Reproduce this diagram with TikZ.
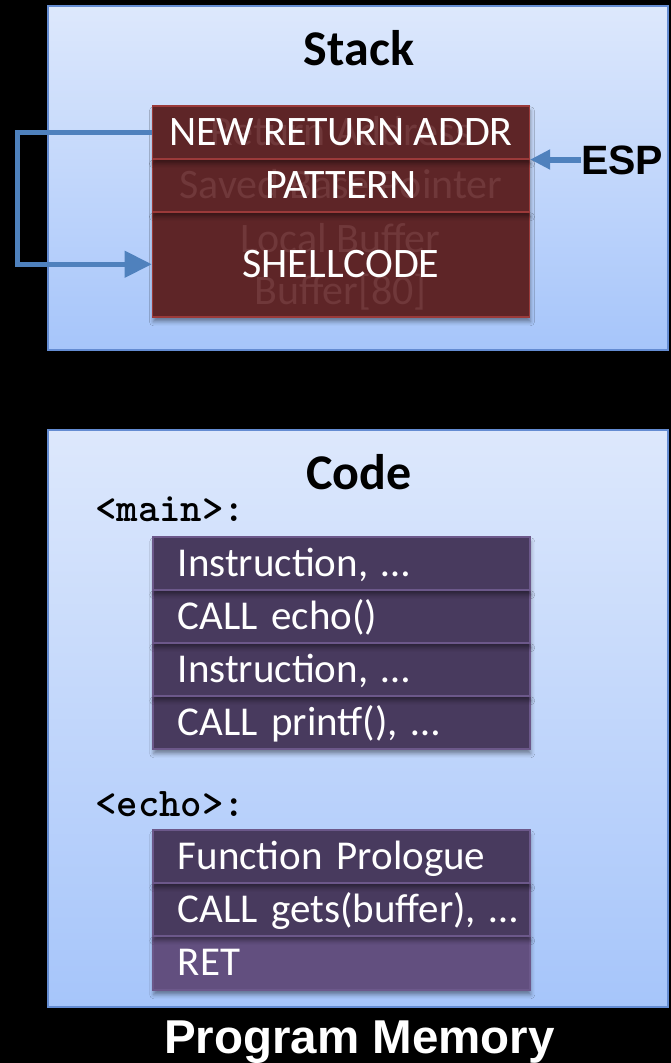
\documentclass[tikz,border=0pt]{standalone}
\usepackage{fontspec}
\setmainfont{Carlito}
\newfontfamily\arialfont{Liberation Sans}
\usetikzlibrary{arrows.meta,shadows.blur}
\definecolor{panelTop}{RGB}{221,232,252}
\definecolor{panelBot}{RGB}{166,197,250}
\definecolor{panelEdge}{RGB}{100,140,210}
\definecolor{redFill}{RGB}{94,37,39}
\definecolor{redEdge}{RGB}{155,58,58}
\definecolor{ghostRed}{RGB}{112,56,58}
\definecolor{purFill}{RGB}{72,58,94}
\definecolor{purEdge}{RGB}{108,88,138}
\definecolor{purLight}{RGB}{98,79,127}
\definecolor{connBlue}{RGB}{79,129,189}
\tikzset{
  panel/.style={draw=panelEdge, line width=1.5pt, top color=panelTop, bottom color=panelBot},
  rowshadow/.style={blur shadow={shadow xshift=1pt, shadow yshift=-5pt, shadow blur radius=4pt, shadow opacity=40}},
  redrow/.style={draw=redEdge, fill=redFill, line width=1.5pt, minimum width=377pt,
    inner sep=0pt, anchor=north west, rowshadow},
  ghosttxt/.style={text=ghostRed, inner sep=0pt, font=\fontsize{42}{42}\selectfont, text height=27pt, text depth=0pt},
  rowtxt/.style={text=white, inner sep=0pt, font=\fontsize{42}{42}\selectfont, text height=27pt, text depth=0pt},
  purrow/.style={draw=purEdge, fill=purFill, line width=1.5pt, minimum height=53pt,
    text width=377pt, inner xsep=0pt, inner ysep=0pt, align=left, anchor=north west,
    execute at begin node={\hspace*{25pt}},
    text=white, font=\fontsize{41}{41}\selectfont, text height=26pt, text depth=0pt, rowshadow},
  titletxt/.style={inner sep=0pt, font=\bfseries\fontsize{50}{50}\selectfont, text height=32pt, text depth=0pt},
  codelbl/.style={inner sep=0pt, anchor=base west, font=\ttfamily\bfseries\fontsize{40.8}{40.8}\selectfont},
  conn/.style={draw=connBlue, line width=4.5pt, -{Triangle[length=27pt,width=26pt]}},
  espconn/.style={draw=connBlue, line width=6pt, -{Triangle[length=20pt,width=19pt]}},
}
\begin{document}
\begin{tikzpicture}[x=1pt,y=-1pt]
\useasboundingbox (0,0) rectangle (671,1063);
\fill[black] (0,0) rectangle (671,1063);
% panels
\path[panel] (48,6) rectangle (668,350);
\path[panel] (48,430) rectangle (668,1007);
% stack
\node[titletxt] (stacktitle) at (359,49) {Stack};
\node[redrow, minimum height=105pt] (r3) at (151.7,211) {};
\node[redrow, minimum height=53pt] (r2) at (151.7,158) {};
\node[redrow, minimum height=53pt] (r1) at (151.7,105) {};
\node[ghosttxt] (g1) at (r1.center) {Return Address};
\node[ghosttxt] (g2) at (r2.center) {Saved Base Pointer};
\node[ghosttxt] (g3a) at (340.4,238.5) {Local Buffer};
\node[ghosttxt] (g3b) at (340.4,291) {Buffer[80]};
\node[rowtxt] (t1) at (r1.center) {NEW RETURN ADDR};
\node[rowtxt] (t2) at (r2.center) {PATTERN};
\node[rowtxt] (t3) at (r3.center) {SHELLCODE};
\node[inner sep=0pt, anchor=west, font=\arialfont\bfseries\fontsize{41}{41}\selectfont, text height=29pt, text depth=0pt] (esp) at (581,160) {ESP};
\draw[espconn] (esp.west |- r1.south east) -- (r1.south east);
\draw[conn] (r1.west) -- ++(-134,0) |- (r3.west);
% code
\node[titletxt] (codetitle) at (359,473) {Code};
\node[codelbl] (mainlbl) at (95,521) {<main>:};
\node[purrow] (m4) at (152,695) {CALL printf(), …};
\node[purrow] (m3) at (152,642) {Instruction, …};
\node[purrow] (m2) at (152,589) {CALL echo()};
\node[purrow] (m1) at (152,536) {Instruction, …};
\node[codelbl] (echolbl) at (95,816) {<echo>:};
\node[purrow, fill=purLight, minimum height=54pt] (e3) at (152,935) {RET};
\node[purrow] (e2) at (152,882) {CALL gets(buffer), …};
\node[purrow] (e1) at (152,829) {Function Prologue};
% caption
\node[inner sep=0pt, text=white, font=\arialfont\bfseries\fontsize{47.5}{47.5}\selectfont, text height=34pt, text depth=0pt] (caption) at (359.5,1036) {Program Memory};
\end{tikzpicture}
\end{document}
